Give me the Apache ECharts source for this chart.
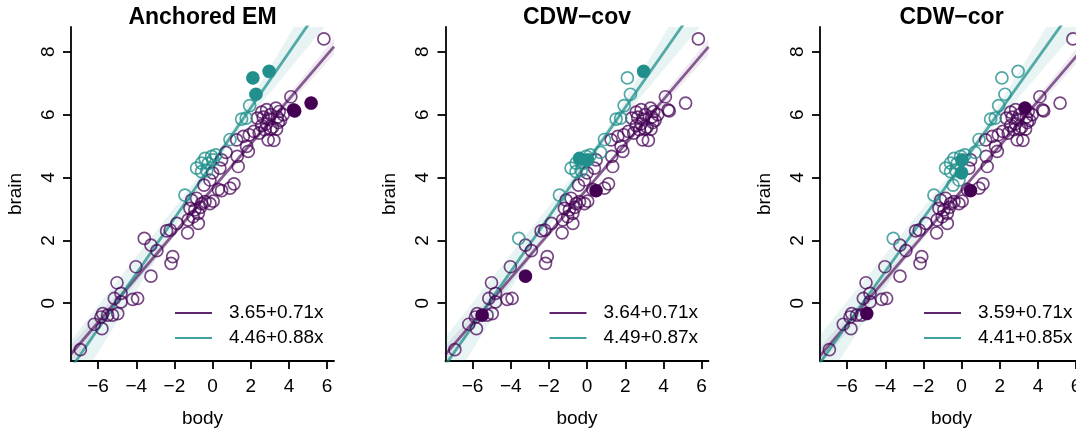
<!DOCTYPE html>
<html>
<head>
<meta charset="utf-8">
<script src="https://cdn.jsdelivr.net/npm/echarts@6/dist/echarts.min.js"></script>
<style>
  html, body { margin: 0; padding: 0; background: #fff; }
  #chart { width: 1076px; height: 431px; }
</style>
</head>
<body>
<div id="chart"></div>
<script>
/* data (log body, log brain) */
var body = [5.83, 2.11, 2.96, 2.27, 4.24, 5.16, 4.10, 1.94, 1.52, 1.76,
  0.91, 2.57, 2.83, 3.04, 3.32, 3.49, 3.70, 2.34, 2.65, 2.93,
  3.39, 3.56, 2.57, 2.83, 3.14, 3.44, 2.16, 2.44, 2.74, 3.04,
  3.35, 2.91, 3.21, 1.92, 1.61, 1.26, 1.78, 1.87, 4.30, 0.70,
  0.47, 0.38, 1.29, 1.34, 1.12, 0.91, 0.30, 0.47, -0.14, -0.45,
  0.00, -1.10, -0.84, -0.58, -0.40, -0.14, 0.03, -1.19, -0.93, -0.75,
  -1.02, -0.75, -1.28, -2.41, -2.22, -1.87, -1.31, -0.64, -0.84, -0.58,
  -0.40, -0.23, -0.05, 0.17, -0.31, -1.45, 0.03, -0.58, -3.58, -3.23,
  -2.92, -2.09, -2.18, -4.02, -3.23, -5.01, -4.80, -5.15, -4.80, -4.19,
  -3.93, -5.76, -5.50, -5.24, -4.97, -5.85, -6.20, -5.80, -6.93];
var brain = [8.41, 7.17, 7.38, 6.65, 6.15, 6.37, 6.57, 6.29, 5.86, 5.89,
  5.21, 6.08, 6.16, 6.00, 6.21, 6.10, 6.00, 5.89, 5.92, 5.86,
  5.92, 5.82, 5.65, 5.71, 5.60, 5.75, 5.47, 5.41, 5.52, 5.54,
  5.54, 5.20, 5.18, 5.36, 5.31, 5.20, 4.99, 4.83, 6.12, 4.80,
  4.56, 4.30, 4.67, 4.35, 3.80, 3.66, 3.62, 3.58, 3.92, 3.76,
  4.15, 3.28, 3.34, 3.17, 3.23, 3.17, 3.25, 3.02, 2.97, 2.86,
  2.75, 2.54, 2.65, 2.30, 2.33, 2.54, 2.24, 3.05, 4.30, 4.19,
  4.61, 4.45, 4.67, 4.72, 4.22, 3.44, 4.56, 4.46, 2.06, 1.85,
  1.67, 1.48, 1.27, 1.16, 0.86, 0.65, 0.31, 0.15, 0.04, 0.12,
  0.15, -0.33, -0.38, -0.38, -0.33, -0.44, -0.67, -0.81, -1.48];

/* cluster 2 (teal) members and anchor points for each method */
var tealBase = [1, 2, 3, 7, 8, 9, 10, 68, 69, 70, 71, 72, 73, 74, 75, 76, 77];
var tealIdx = [tealBase, tealBase.concat([39, 78]), tealBase.concat([39, 78, 48, 49, 50])];
var filledTeal = [[1, 2, 3], [2, 70, 76], [76, 50]];
var filledPurple = [[4, 5, 38], [92, 84, 47], [94, 47, 14]];

var panelTitles = ['Anchored EM', 'CDW\u2212cov', 'CDW\u2212cor'];
var intercepts = [[3.65, 4.46], [3.64, 4.49], [3.59, 4.41]];
var slopes = [[0.71, 0.88], [0.71, 0.87], [0.71, 0.85]];

/* confidence band half widths read at these x positions */
var bandX = [-7.6, -6, -4, -2, 0, 1, 2, 4, 6, 6.6];
var tealHalf = [0.9, 0.75, 0.55, 0.34, 0.16, 0.13, 0.26, 0.55, 0.85, 0.92];
var purpleHalf = [0.3, 0.24, 0.16, 0.1, 0.07, 0.08, 0.1, 0.16, 0.24, 0.27];

var xTicks = [-6, -4, -2, 0, 2, 4, 6];
var yTicks = [0, 2, 4, 6, 8];
var xMin = -7.42, xMax = 6.36, yMin = -1.84, yMax = 8.79;

var PURPLE = '#440154', TEAL = '#21908C';
var FONT = '"Liberation Sans", Arial, Helvetica, sans-serif';
var GL = 71, GSTEP = 374.5, GW = 263, GTOP = 27, GH = 334;

function minus(v) { return String(v).replace('-', '\u2212'); }

function pts(idx) {
  return idx.map(function (i) { return [body[i], brain[i]]; });
}

function bandSeries(g, k, half, color) {
  var a = intercepts[g][k], b = slopes[g][k];
  var data = bandX.map(function (x, j) {
    var m = a + b * x;
    return [x, m - half[j], m + half[j]];
  });
  return {
    type: 'custom', xAxisIndex: g, yAxisIndex: g, silent: true, z: 1,
    data: [[0, 0]],
    renderItem: function (params, api) {
      var up = data.map(function (d) { return api.coord([d[0], d[2]]); });
      var lo = data.map(function (d) { return api.coord([d[0], d[1]]); }).reverse();
      var cs = params.coordSys;
      return {
        type: 'polygon',
        shape: { points: up.concat(lo) },
        style: { fill: color },
        clipPath: { type: 'rect', shape: { x: cs.x, y: cs.y, width: cs.width, height: cs.height } }
      };
    }
  };
}

function lineSeries(g, k, color) {
  var a = intercepts[g][k], b = slopes[g][k];
  return {
    type: 'line', xAxisIndex: g, yAxisIndex: g, symbol: 'none', silent: true, z: 2,
    data: [[xMin, a + b * xMin], [xMax, a + b * xMax]],
    lineStyle: { color: color, width: 2.8 }
  };
}

var grids = [], xAxes = [], yAxes = [], series = [], titles = [], graphics = [];

for (var g = 0; g < 3; g++) {
  var left = GL + GSTEP * g;
  grids.push({ left: left, top: GTOP, width: GW, height: GH, outerBoundsMode: 'none', containLabel: false });
  xAxes.push({
    gridIndex: g, type: 'value', min: xMin, max: xMax,
    axisLine: { show: true, onZero: false, lineStyle: { color: '#000', width: 1.8 } },
    axisTick: { show: true, customValues: xTicks, length: 8, lineStyle: { color: '#000', width: 1.8 } },
    axisLabel: { customValues: xTicks, formatter: minus, color: '#000', fontSize: 19, fontFamily: FONT, margin: 16 },
    splitLine: { show: false },
    name: 'body', nameLocation: 'middle', nameGap: 48,
    nameTextStyle: { color: '#000', fontSize: 19, fontFamily: FONT }
  });
  yAxes.push({
    gridIndex: g, type: 'value', min: yMin, max: yMax,
    axisLine: { show: true, onZero: false, lineStyle: { color: '#000', width: 1.8 } },
    axisTick: { show: true, customValues: yTicks, length: 8, lineStyle: { color: '#000', width: 1.8 } },
    axisLabel: { customValues: yTicks, formatter: minus, rotate: 90, color: '#000', fontSize: 19, fontFamily: FONT, margin: 13 },
    splitLine: { show: false },
    name: 'brain', nameLocation: 'middle', nameGap: 46,
    nameTextStyle: { color: '#000', fontSize: 19, fontFamily: FONT }
  });

  series.push(bandSeries(g, 0, purpleHalf, 'rgba(68,1,84,0.08)'));
  series.push(bandSeries(g, 1, tealHalf, 'rgba(33,144,140,0.10)'));
  series.push(lineSeries(g, 0, 'rgba(68,1,84,0.62)'));
  series.push(lineSeries(g, 1, 'rgba(33,144,140,0.75)'));

  var teal = tealIdx[g];
  var purpleOpen = [], tealOpen = [];
  for (var i = 0; i < body.length; i++) {
    if (teal.indexOf(i) >= 0) tealOpen.push(i); else purpleOpen.push(i);
  }
  series.push({
    type: 'scatter', xAxisIndex: g, yAxisIndex: g, symbolSize: 12, z: 3, silent: true,
    data: pts(purpleOpen),
    itemStyle: { color: 'rgba(0,0,0,0)', borderColor: 'rgba(68,1,84,0.72)', borderWidth: 1.7, opacity: 1 }
  });
  series.push({
    type: 'scatter', xAxisIndex: g, yAxisIndex: g, symbolSize: 12, z: 3, silent: true,
    data: pts(tealOpen),
    itemStyle: { color: 'rgba(0,0,0,0)', borderColor: 'rgba(33,144,140,0.78)', borderWidth: 1.7, opacity: 1 }
  });
  series.push({
    type: 'scatter', xAxisIndex: g, yAxisIndex: g, symbolSize: 13, z: 4, silent: true,
    data: pts(filledPurple[g]), itemStyle: { color: PURPLE, opacity: 1 }
  });
  series.push({
    type: 'scatter', xAxisIndex: g, yAxisIndex: g, symbolSize: 13, z: 4, silent: true,
    data: pts(filledTeal[g]), itemStyle: { color: TEAL, opacity: 1 }
  });

  titles.push({
    text: panelTitles[g], left: left + GW / 2 - 5, top: 1, textAlign: 'center',
    textStyle: { fontSize: 23, fontWeight: 'bold', color: '#000', fontFamily: FONT }
  });

  // legend: line + equation
  var legColors = ['rgba(68,1,84,0.85)', 'rgba(33,144,140,0.85)'];
  for (var k = 0; k < 2; k++) {
    var ly = 313 + 25 * k;
    graphics.push({
      type: 'line', shape: { x1: left + 104, y1: ly, x2: left + 141, y2: ly },
      style: { stroke: legColors[k], lineWidth: 2.2 }
    });
    graphics.push({
      type: 'text', x: left + 158, y: ly,
      style: {
        text: intercepts[g][k].toFixed(2) + '+' + slopes[g][k].toFixed(2) + 'x',
        fill: '#000', font: '19px ' + FONT, verticalAlign: 'middle', align: 'left'
      }
    });
  }
}

var myChart = echarts.init(document.getElementById('chart'), null, { renderer: 'canvas' });
myChart.setOption({
  backgroundColor: '#fff',
  animation: false,
  title: titles,
  grid: grids,
  xAxis: xAxes,
  yAxis: yAxes,
  series: series,
  graphic: graphics
});
</script>
</body>
</html>
